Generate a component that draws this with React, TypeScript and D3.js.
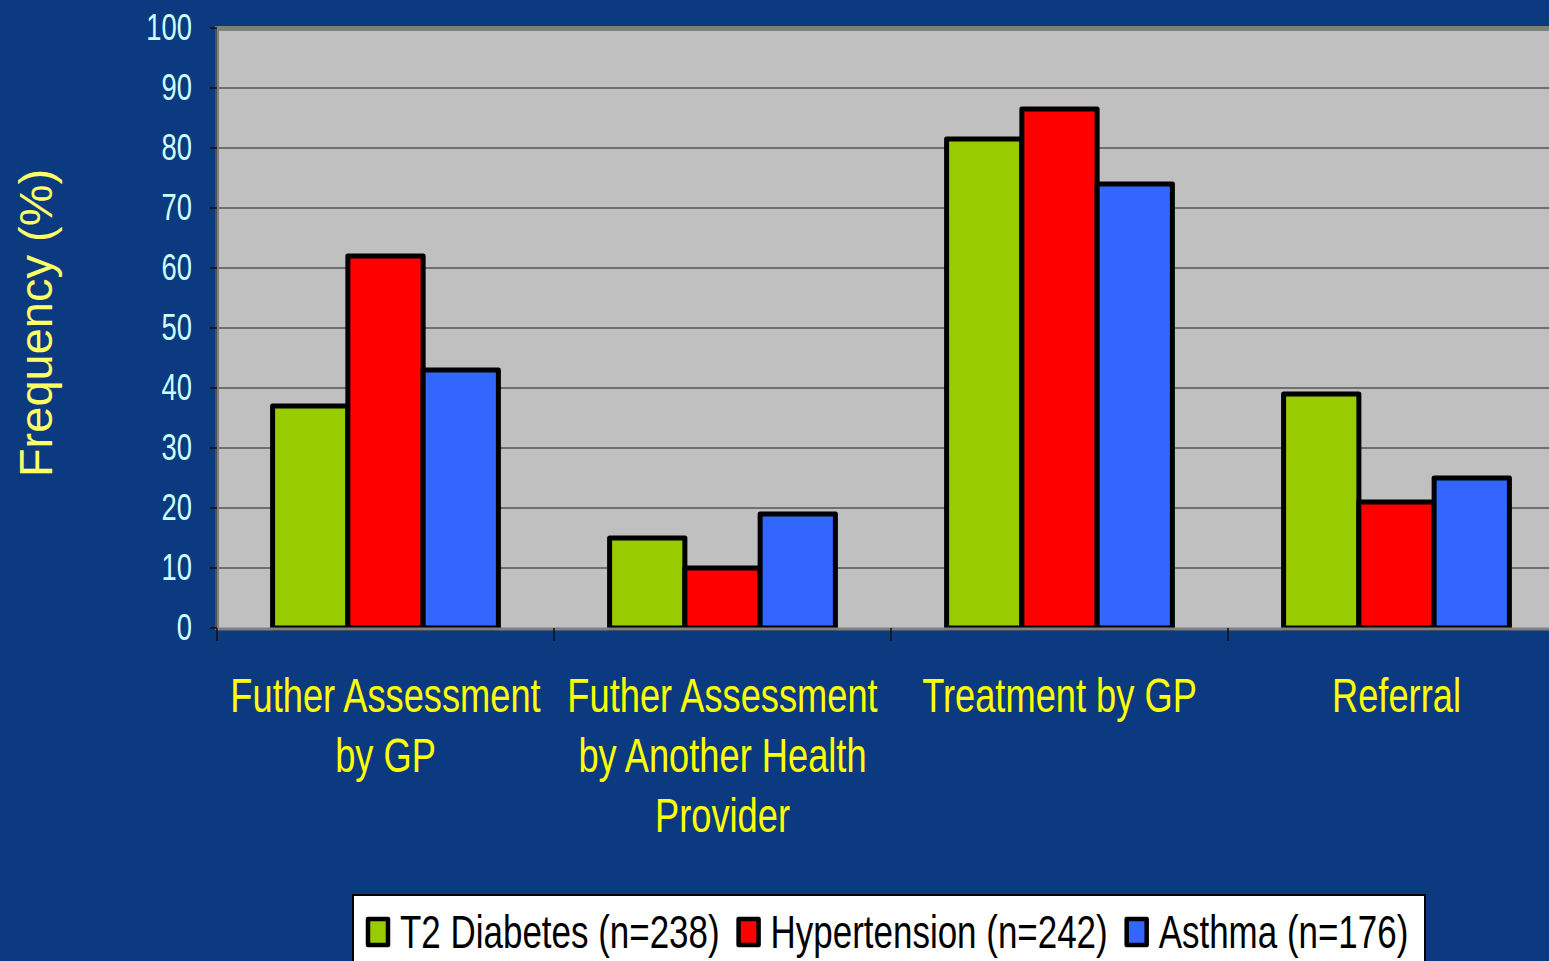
import React, { useRef, useEffect } from "react";
import * as d3 from "d3";

// chart values
const categories = [
  "Futher Assessment|by GP",
  "Futher Assessment|by Another Health|Provider",
  "Treatment by GP",
  "Referral",
];
const seriesNames = ["T2 Diabetes (n=238)", "Hypertension (n=242)", "Asthma (n=176)"];
const seriesColors = ["#99cc00", "#ff0000", "#3366ff"];
const diabetes = [37, 15, 81.5, 39];
const hypertension = [62, 10, 86.5, 21];
const asthma = [43, 19, 74, 25];
const yTicks = [0, 10, 20, 30, 40, 50, 60, 70, 80, 90, 100];

const W = 1549;
const H = 961;

const App = () => {
  const ref = useRef(null);

  useEffect(() => {
    const svg = d3.select(ref.current);
    svg.selectAll("*").remove();

    const margin = { top: 28, left: 217, bottom: 628 };
    const squeeze = 0.74; // the original fonts are narrow

    const seriesValues = [diabetes, hypertension, asthma];

    const y = d3.scaleLinear().domain([0, 100]).range([margin.bottom, margin.top]);
    const x0 = d3.scaleBand()
      .domain(categories)
      .range([margin.left, margin.left + 4 * 337])
      .paddingInner(0.33)
      .paddingOuter(0.165);
    const x1 = d3.scaleBand()
      .domain(seriesNames)
      .range([0, x0.bandwidth()]);

    // background
    svg.append("rect")
      .attr("width", W).attr("height", H)
      .attr("fill", "#0b3a80");

    // plot wall with 3d edge
    svg.append("rect")
      .attr("x", margin.left - 2).attr("y", margin.top - 2)
      .attr("width", W - margin.left + 2).attr("height", margin.bottom - margin.top + 4)
      .attr("fill", "#808080");
    svg.append("rect")
      .attr("x", margin.left + 2).attr("y", margin.top + 3)
      .attr("width", W - margin.left).attr("height", margin.bottom - margin.top - 3)
      .attr("fill", "#c0c0c0");

    // gridlines
    svg.append("g")
      .selectAll("line")
      .data(yTicks.filter((t) => t > 0 && t < 100))
      .join("line")
      .attr("x1", margin.left + 2).attr("x2", W)
      .attr("y1", (d) => y(d)).attr("y2", (d) => y(d))
      .attr("stroke", "#555")
      .attr("stroke-width", 1.5);

    // y axis line + ticks
    svg.append("line")
      .attr("x1", margin.left - 1).attr("x2", margin.left - 1)
      .attr("y1", margin.top).attr("y2", margin.bottom)
      .attr("stroke", "#222").attr("stroke-width", 1);
    svg.append("g")
      .selectAll("line")
      .data(yTicks)
      .join("line")
      .attr("x1", margin.left - 7).attr("x2", margin.left)
      .attr("y1", (d) => y(d)).attr("y2", (d) => y(d))
      .attr("stroke", "#111").attr("stroke-width", 1.5);

    svg.append("g")
      .selectAll("text")
      .data(yTicks)
      .join("text")
      .attr("transform", (d) => `translate(192,${y(d) + 12}) scale(${squeeze},1)`)
      .attr("text-anchor", "end")
      .attr("font-family", "Liberation Sans, Arial, sans-serif")
      .attr("font-size", 37)
      .attr("fill", "#ccffff")
      .text((d) => d);

    // y title
    svg.append("text")
      .attr("transform", "translate(52,323) rotate(-90)")
      .attr("text-anchor", "middle")
      .attr("font-family", "Liberation Sans, Arial, sans-serif")
      .attr("font-size", 47)
      .attr("fill", "#ffff66")
      .text("Frequency (%)");

    // bars
    const groups = svg.append("g")
      .selectAll("g")
      .data(categories)
      .join("g")
      .attr("transform", (d) => `translate(${x0(d)},0)`);

    groups.selectAll("rect")
      .data((d, i) => seriesNames.map((s, j) => ({ s, j, v: seriesValues[j][i] })))
      .join("rect")
      .attr("x", (d) => x1(d.s))
      .attr("width", x1.bandwidth())
      .attr("y", (d) => y(d.v))
      .attr("height", (d) => y(0) - y(d.v))
      .attr("fill", (d) => seriesColors[d.j])
      .attr("stroke", "#000")
      .attr("stroke-width", 5)
      .attr("stroke-linejoin", "round");

    // x axis + category boundary ticks
    svg.append("line")
      .attr("x1", margin.left).attr("x2", W)
      .attr("y1", margin.bottom + 1).attr("y2", margin.bottom + 1)
      .attr("stroke", "#808080").attr("stroke-width", 3);
    svg.append("g")
      .selectAll("line")
      .data(categories)
      .join("line")
      .attr("x1", (d) => x0(d) - x0.step() * 0.165)
      .attr("x2", (d) => x0(d) - x0.step() * 0.165)
      .attr("y1", margin.bottom).attr("y2", margin.bottom + 13)
      .attr("stroke", "#111").attr("stroke-width", 1.5);

    // category labels
    const labels = svg.append("g")
      .selectAll("g")
      .data(categories)
      .join("g")
      .attr("transform", (d) => `translate(${x0(d) + x0.bandwidth() / 2},0)`);
    labels.each(function (d) {
      d.split("|").forEach((line, k) => {
        d3.select(this).append("text")
          .attr("transform", `translate(0,${712 + k * 60}) scale(${squeeze},1)`)
          .attr("text-anchor", "middle")
          .attr("font-family", "Liberation Sans, Arial, sans-serif")
          .attr("font-size", 49)
          .attr("fill", "#ffff00")
          .text(line);
      });
    });

    // legend
    const legend = svg.append("g");
    legend.append("rect")
      .attr("x", 353).attr("y", 895)
      .attr("width", 1072).attr("height", 80)
      .attr("fill", "#fff")
      .attr("stroke", "#000").attr("stroke-width", 2);

    const legSqueeze = 0.76;
    let lx = 368;
    seriesNames.forEach((name, j) => {
      legend.append("rect")
        .attr("x", lx).attr("y", 919)
        .attr("width", 20).attr("height", 26)
        .attr("fill", seriesColors[j])
        .attr("stroke", "#000").attr("stroke-width", 4.5)
        .attr("stroke-linejoin", "round");
      const t = legend.append("text")
        .attr("transform", `translate(${lx + 32},948) scale(${legSqueeze},1)`)
        .attr("font-family", "Liberation Sans, Arial, sans-serif")
        .attr("font-size", 46)
        .attr("fill", "#000")
        .text(name);
      const len = t.node().getComputedTextLength() * legSqueeze;
      lx = lx + 32 + len + 19;
    });
  }, []);

  return (
    <svg
      ref={ref}
      width={W}
      height={H}
      style={{ position: "absolute", left: 0, top: 0, display: "block" }}
    />
  );
};

export default App;
